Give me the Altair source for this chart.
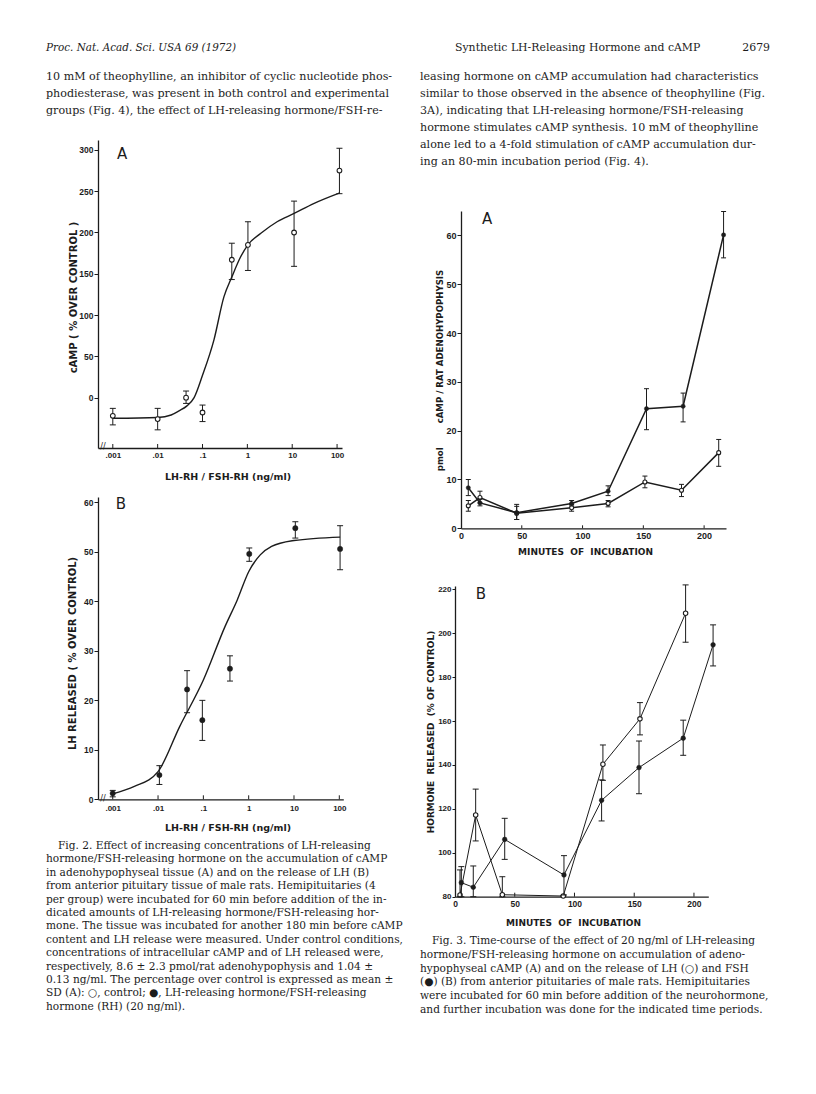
import altair as alt
import pandas as pd

INK = "#1c1c1c"
M = 8            # page margin
W, H = 800, 1078 # drawing area

# ---------------- data ----------------
# Fig. 2A  cAMP (% over control) vs LH-RH/FSH-RH dose
f2a_dose = [0.001, 0.01, 0.043, 0.1, 0.45, 1.03, 11.0, 113.0]
f2a_mean = [-22, -26, 0, -18, 167, 185, 200, 275]
f2a_lo   = [-33, -39, -7, -29, 143, 154, 159, 247]
f2a_hi   = [-13, -13, 8, -9, 187, 213, 238, 302]
f2a_curve_dose = [0.001, 0.01, 0.02, 0.03, 0.045, 0.065, 0.1, 0.18, 0.3, 0.45, 0.7, 1.03, 2.0, 4.6, 11.0, 30.0, 115.0]
f2a_curve_val  = [-25, -24, -21, -16, -10, 0, 27, 70, 122, 146, 170, 185, 199, 213, 223, 235, 248]

# Fig. 2B  LH released (% over control)
f2b_dose = [0.001, 0.0107, 0.0437, 0.095, 0.386, 1.03, 10.7, 104.0]
f2b_mean = [1.2, 4.9, 22.2, 16.0, 26.4, 49.6, 54.8, 50.6]
f2b_lo   = [0.5, 3.0, 17.5, 11.9, 23.9, 48.1, 52.8, 46.4]
f2b_hi   = [1.8, 6.8, 26.0, 20.0, 29.0, 50.8, 56.1, 55.3]
f2b_curve_dose = [0.001, 0.003, 0.01, 0.03, 0.1, 0.3, 0.56, 1.0, 1.8, 3.2, 10.0, 104.0]
f2b_curve_val  = [1.1, 2.6, 5.6, 14.7, 24.1, 34.9, 40.3, 46.0, 49.4, 51.1, 52.3, 53.0]

# Fig. 3A  pmol cAMP / rat adenohypophysis vs minutes
f3a_rh_t    = [6, 15.6, 45.8, 91, 121, 152.6, 182.7, 216]
f3a_rh_mean = [8.3, 5.2, 3.2, 5.1, 7.6, 24.5, 25.0, 60.1]
f3a_rh_lo   = [6.7, 4.6, 1.8, 4.6, 6.7, 20.2, 21.8, 55.4]
f3a_rh_hi   = [10.0, 6.0, 4.9, 5.7, 8.7, 28.6, 27.7, 64.9]
f3a_c_t     = [6, 15.6, 45.8, 91, 121, 151.3, 181.4, 212]
f3a_c_mean  = [4.6, 6.3, 3.1, 4.2, 5.1, 9.5, 7.8, 15.5]
f3a_c_lo    = [3.5, 5.2, 1.8, 3.5, 4.4, 8.3, 6.5, 12.7]
f3a_c_hi    = [5.7, 7.6, 4.5, 4.9, 5.7, 10.7, 9.0, 18.2]

# Fig. 3B  hormone released (% of control): LH (open), FSH (filled)
f3b_lh_t    = [4.2, 17.3, 39.6, 90.6, 123.8, 154.8, 193.0]
f3b_lh_mean = [80.8, 117.2, 80.9, 80.3, 140.3, 161.0, 209.1]
f3b_lh_lo   = [80.0, 105.4, 80.0, 80.3, 133.0, 153.7, 195.9]
f3b_lh_hi   = [92.2, 129.0, 89.1, 80.3, 149.1, 168.4, 222.0]
f3b_fsh_t    = [5.3, 15.3, 41.6, 91.2, 122.7, 154.0, 191.0, 216.0]
f3b_fsh_mean = [86.4, 84.3, 106.1, 89.9, 123.9, 138.8, 152.2, 194.7]
f3b_fsh_lo   = [80.0, 80.0, 97.0, 80.8, 114.5, 126.9, 144.4, 185.1]
f3b_fsh_hi   = [93.7, 94.0, 115.7, 98.7, 133.2, 150.9, 160.4, 203.8]

# ticks
dose_ticks = [0.001, 0.01, 0.1, 1, 10, 100]
dose_tick_labels = [".001", ".01", ".1", "1", "10", "100"]
f2a_yticks = [0, 50, 100, 150, 200, 250, 300]
f2b_yticks = [0, 10, 20, 30, 40, 50, 60]
min_ticks = [0, 50, 100, 150, 200]
f3a_yticks = [0, 10, 20, 30, 40, 50, 60]
f3b_yticks = [80, 100, 120, 140, 160, 180, 200, 220]

# text
header_left = "Proc. Nat. Acad. Sci. USA 69 (1972)"
header_right = "Synthetic LH-Releasing Hormone and cAMP"
page_no = "2679"
para_left = [
    "10 mM of theophylline, an inhibitor of cyclic nucleotide phos-",
    "phodiesterase, was present in both control and experimental",
    "groups (Fig. 4), the effect of LH-releasing hormone/FSH-re-",
]
para_right = [
    "leasing hormone on cAMP accumulation had characteristics",
    "similar to those observed in the absence of theophylline (Fig.",
    "3A), indicating that LH-releasing hormone/FSH-releasing",
    "hormone stimulates cAMP synthesis. 10 mM of theophylline",
    "alone led to a 4-fold stimulation of cAMP accumulation dur-",
    "ing an 80-min incubation period (Fig. 4).",
]
cap2_first = "Fig. 2.   Effect of increasing concentrations of LH-releasing"
cap2_rest = [
    "hormone/FSH-releasing hormone on the accumulation of cAMP",
    "in adenohypophyseal tissue (A) and on the release of LH (B)",
    "from anterior pituitary tissue of male rats. Hemipituitaries (4",
    "per group) were incubated for 60 min before addition of the in-",
    "dicated amounts of LH-releasing hormone/FSH-releasing hor-",
    "mone. The tissue was incubated for another 180 min before cAMP",
    "content and LH release were measured. Under control conditions,",
    "concentrations of intracellular cAMP and of LH released were,",
    "respectively, 8.6 \u00b1 2.3 pmol/rat adenohypophysis and 1.04 \u00b1",
    "0.13 ng/ml. The percentage over control is expressed as mean \u00b1",
    "SD (A): \u25cb, control; \u25cf, LH-releasing hormone/FSH-releasing",
    "hormone (RH) (20 ng/ml).",
]
cap3_first = "Fig. 3.   Time-course of the effect of 20 ng/ml of LH-releasing"
cap3_rest = [
    "hormone/FSH-releasing hormone on accumulation of adeno-",
    "hypophyseal cAMP (A) and on the release of LH (\u25cb) and FSH",
    "(\u25cf) (B) from anterior pituitaries of male rats. Hemipituitaries",
    "were incubated for 60 min before addition of the neurohormone,",
    "and further incubation was done for the indicated time periods.",
]

# ---------------- layout (page pixels of each plot frame) ----------------
F2A = dict(x0=98, x1=342, y0=140, y1=448)
F2B = dict(x0=98, x1=343.3, y0=497, y1=799.3)
F3A = dict(x0=461, x1=726, y0=211, y1=528.3)
F3B = dict(x0=455, x1=708.3, y0=586, y1=896.7)

NBSP = "\u00a0"
ONE = pd.DataFrame({"k": [0]})
LABEL_FONT = "Liberation Sans Narrow, Liberation Sans"


def scales(fr, xdom, ydom, log=False):
    if log:
        xs = alt.Scale(type="log", domain=xdom, range=[fr["x0"] - M, fr["x1"] - M], nice=False)
    else:
        xs = alt.Scale(domain=xdom, range=[fr["x0"] - M, fr["x1"] - M], nice=False, zero=False)
    ys = alt.Scale(domain=ydom, range=[fr["y1"] - M, fr["y0"] - M], nice=False, zero=False)
    return xs, ys


def yaxis(fr, values, title, title_x, title_y, tsize=10, lsize=8.5, tick=4):
    return alt.Axis(orient="left", offset=-(fr["x0"] - M), values=values, title=title,
                    tickSize=tick, labelPadding=1, labelFontSize=lsize, titleFontSize=tsize,
                    labelFont=LABEL_FONT,
                    titleX=title_x, titleY=title_y - M, format="d", grid=False,
                    domainWidth=1.3, tickWidth=1)


def xaxis(fr, values, title, title_x, title_y, label_pad, tsize=9.5, lsize=8, label_expr=None):
    kw = dict(orient="bottom", offset=(fr["y1"] - M) - H, values=values, title=title,
              ticks=False, labelPadding=label_pad, labelFontSize=lsize, titleFontSize=tsize,
              titleX=title_x - M, titleY=title_y, labelFlush=False, grid=False, domainWidth=1.3)
    if label_expr:
        kw["labelExpr"] = label_expr
    else:
        kw["format"] = "d"
    return alt.Axis(**kw)


dose_expr = "".join(
    f"abs(datum.value - {v}) < {v * 1e-3} ? '{l}' : " for v, l in zip(dose_ticks, dose_tick_labels)
) + "''"


def series_layers(df, xs, ys, xax, yax, open_pt, size, line=None, lw=1.2, cap=6):
    X = alt.X("x:Q", scale=xs, axis=xax)
    out = []
    if line:
        out.append(alt.Chart(df).mark_line(color=INK, strokeWidth=lw).encode(
            x=X, y=alt.Y("mean:Q", scale=ys, axis=yax)))
    out.append(alt.Chart(df).mark_rule(color=INK, strokeWidth=1).encode(
        x=X, y=alt.Y("lo:Q", scale=ys, axis=yax), y2="hi:Q"))
    for f in ("lo", "hi"):
        out.append(alt.Chart(df).mark_tick(orient="horizontal", size=cap, thickness=1, color=INK, opacity=1).encode(
            x=X, y=alt.Y(f"{f}:Q", scale=ys, axis=yax)))
    if open_pt:
        mk = alt.Chart(df).mark_point(shape="circle", filled=True, fill="white", stroke=INK,
                                      strokeWidth=1.1, size=size, opacity=1)
    else:
        mk = alt.Chart(df).mark_point(shape="circle", filled=True, fill=INK, stroke=INK,
                                      strokeWidth=0.5, size=size, opacity=1)
    out.append(mk.encode(x=X, y=alt.Y("mean:Q", scale=ys, axis=yax)))
    return out


def inner_ticks(values, xs, xax, yax, ys, fr, length):
    df = pd.DataFrame({"x": values})
    return alt.Chart(df).mark_rule(color=INK, strokeWidth=1).encode(
        x=alt.X("x:Q", scale=xs, axis=xax),
        y=alt.value(fr["y1"] - M - length), y2=alt.value(fr["y1"] - M))


def curve_layer(dose, val, xs, ys, xax, yax):
    df = pd.DataFrame({"x": dose, "mean": val})
    return alt.Chart(df).mark_line(color=INK, strokeWidth=1.4, interpolate="monotone").encode(
        x=alt.X("x:Q", scale=xs, axis=xax), y=alt.Y("mean:Q", scale=ys, axis=yax))


def text(lines, x, y, size, font="DejaVu Serif", lh=None, style="normal", align="left",
         weight="normal", baseline="alphabetic"):
    return alt.Chart(ONE).mark_text(align=align, baseline=baseline, font=font, fontSize=size,
                                   fontStyle=style, fontWeight=weight, color=INK,
                                   lineHeight=lh or size * 1.2).encode(
        x=alt.value(x - M), y=alt.value(y - M), text=alt.value(lines))


# ---------------- Fig. 2A ----------------
xs, ys = scales(F2A, [10 ** -3.33, 10 ** 2.11], [-61, 312], log=True)
xax = xaxis(F2A, dose_ticks, "LH-RH / FSH-RH (ng/ml)", 227.5, 23, 3.5, label_expr=dose_expr)
yax = yaxis(F2A, f2a_yticks, "cAMP ( % OVER CONTROL )", -19.4, 297)
df = pd.DataFrame({"x": f2a_dose, "mean": f2a_mean, "lo": f2a_lo, "hi": f2a_hi})
p2a = alt.layer(curve_layer(f2a_curve_dose, f2a_curve_val, xs, ys, xax, yax),
                inner_ticks(dose_ticks, xs, xax, yax, ys, F2A, 4),
                *series_layers(df, xs, ys, xax, yax, True, 22))

# ---------------- Fig. 2B ----------------
xs, ys = scales(F2B, [10 ** -3.325, 10 ** 2.088], [0, 61.1], log=True)
xax = xaxis(F2B, dose_ticks, "LH-RH / FSH-RH (ng/ml)", 227.5, 23.6, 5.5, label_expr=dose_expr)
yax = yaxis(F2B, f2b_yticks, "LH RELEASED ( % OVER CONTROL)", -20.7, 653)
df = pd.DataFrame({"x": f2b_dose, "mean": f2b_mean, "lo": f2b_lo, "hi": f2b_hi})
p2b = alt.layer(curve_layer(f2b_curve_dose, f2b_curve_val, xs, ys, xax, yax),
                inner_ticks(dose_ticks, xs, xax, yax, ys, F2B, 4),
                *series_layers(df, xs, ys, xax, yax, False, 28))

# ---------------- Fig. 3A ----------------
xs, ys = scales(F3A, [0, 218], [0, 65])
xax = xaxis(F3A, min_ticks, f"MINUTES{NBSP}{NBSP}OF{NBSP}{NBSP}INCUBATION", 585, 18.8, 2.8, tsize=9, lsize=9)
yax = yaxis(F3A, f3a_yticks, "pmol" + NBSP * 8 + "cAMP / RAT ADENOHYPOPHYSIS", -16.5, 370,
            tsize=8.6, lsize=9)
df_rh = pd.DataFrame({"x": f3a_rh_t, "mean": f3a_rh_mean, "lo": f3a_rh_lo, "hi": f3a_rh_hi})
df_c = pd.DataFrame({"x": f3a_c_t, "mean": f3a_c_mean, "lo": f3a_c_lo, "hi": f3a_c_hi})
p3a = alt.layer(inner_ticks(min_ticks[1:], xs, xax, yax, ys, F3A, 3),
                *series_layers(df_c, xs, ys, xax, yax, True, 16, line=True, lw=1.5, cap=5),
                *series_layers(df_rh, xs, ys, xax, yax, False, 18, line=True, lw=1.5, cap=5))

# ---------------- Fig. 3B ----------------
xs, ys = scales(F3B, [0, 212], [80, 221.5])
xax = xaxis(F3B, min_ticks, f"MINUTES{NBSP}{NBSP}OF{NBSP}{NBSP}INCUBATION", 573, 21.4, 2.4, tsize=9, lsize=8.5)
yax = yaxis(F3B, f3b_yticks, f"HORMONE{NBSP}{NBSP}RELEASED{NBSP}{NBSP}(% OF CONTROL)", -19.5, 731.5,
            tsize=9, lsize=8, tick=3)
df_lh = pd.DataFrame({"x": f3b_lh_t, "mean": f3b_lh_mean, "lo": f3b_lh_lo, "hi": f3b_lh_hi})
df_fsh = pd.DataFrame({"x": f3b_fsh_t, "mean": f3b_fsh_mean, "lo": f3b_fsh_lo, "hi": f3b_fsh_hi})
p3b = alt.layer(inner_ticks(min_ticks[1:], xs, xax, yax, ys, F3B, 4),
                *series_layers(df_lh, xs, ys, xax, yax, True, 20, line=True, lw=1.0, cap=6),
                *series_layers(df_fsh, xs, ys, xax, yax, False, 22, line=True, lw=1.0, cap=6))

# ---------------- page text ----------------
texts = [
    text(header_left, 46, 51, 10.4, style="italic"),
    text(header_right, 455, 51, 10.9),
    text(page_no, 770, 51, 10.9, align="right"),
    text(para_left, 46, 80, 11.1, lh=17),
    text(para_right, 420, 80, 11.1, lh=17),
    text(cap2_first, 58, 849, 10.6),
    text(cap2_rest, 46, 862.4, 10.6, lh=13.4),
    text(cap3_first, 432, 944, 10.6),
    text(cap3_rest, 420, 957.8, 10.6, lh=13.8),
    text("A", 122, 158.5, 15, font="DejaVu Sans", align="center"),
    text("B", 121, 508.5, 15, font="DejaVu Sans", align="center"),
    text("A", 487, 223.5, 15, font="DejaVu Sans", align="center"),
    text("B", 481, 598.5, 15, font="DejaVu Sans", align="center"),
    text("//", 103, 447, 8, font="DejaVu Sans", align="center", baseline="middle"),
    text("//", 103, 799, 8, font="DejaVu Sans", align="center", baseline="middle"),
]

chart = alt.layer(p2a, p2b, p3a, p3b, *texts).resolve_scale(
    x="independent", y="independent").resolve_axis(x="independent", y="independent").properties(
    width=W, height=H, autosize=alt.AutoSizeParams(type="none"), padding=0, background="white"
).configure_view(stroke=None).configure_axis(
    labelFont="Liberation Sans", labelFontWeight="bold", labelColor=INK,
    titleFont="DejaVu Sans", titleFontWeight="bold", titleColor=INK,
    domainColor=INK, tickColor=INK, grid=False
)

chart.save("out.html", embed_options={"renderer": "svg", "actions": False})
